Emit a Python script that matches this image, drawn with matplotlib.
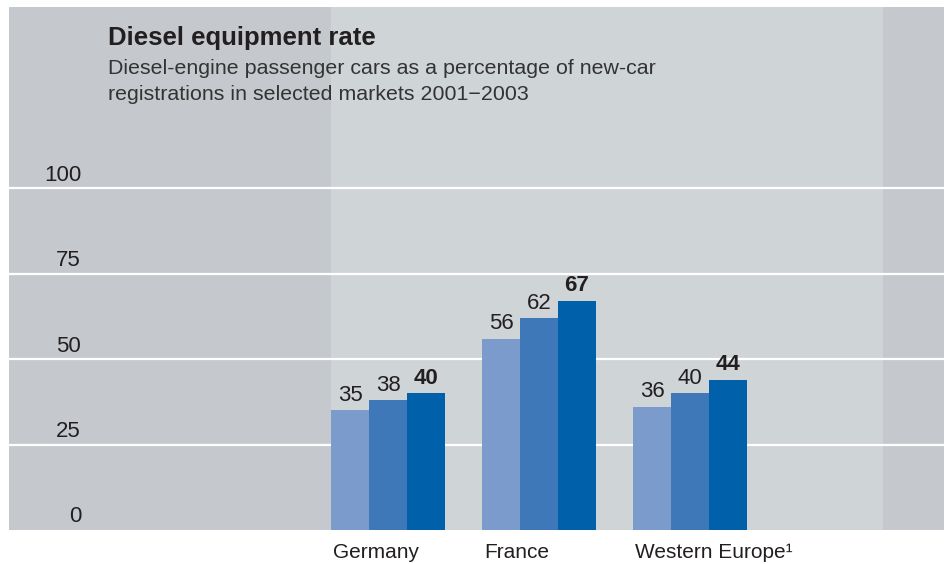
import numpy as np
import matplotlib.pyplot as plt

plt.rcParams['font.family'] = ['Liberation Sans', 'DejaVu Sans']

# Data
markets = ['Germany', 'France', 'Western Europe\u00b9']
years = ['2001', '2002', '2003']
rate_2001 = [35, 56, 36]
rate_2002 = [38, 62, 40]
rate_2003 = [40, 67, 44]
y_ticks = [0, 25, 50, 75, 100]

bar_colors = ['#7b9bcc', '#3f78b9', '#0060aa']
dark_bg = '#c5c9cd'
light_bg = '#cfd4d7'
text_col = '#231f20'

W, H = 944, 564
fig = plt.figure(figsize=(W / 100, H / 100), dpi=100)
fig.patch.set_facecolor('white')

# axes in pixel placement: panel 9..944 x, 7..530 y
ax = fig.add_axes([9 / W, (H - 530) / H, (944 - 9) / W, (530 - 7) / H])
ax.set_facecolor(dark_bg)

width = 0.25
x = np.arange(len(markets))
px = 151.0  # pixels per group
ax.set_xlim((9 - 388) / px, (944 - 388) / px)
ax.set_ylim(0, 153)
upx = 153 / 523.0  # data units per pixel

# lighter band behind the bars
ax.axvspan(-1.5 * width, (883 - 388) / px, color=light_bg, zorder=0, lw=0)

for t in y_ticks[1:]:
    ax.axhline(t, color='white', lw=1.6, zorder=1)

series = [rate_2001, rate_2002, rate_2003]
for i, vals in enumerate(series):
    pos = x + (i - 1) * width
    ax.bar(pos, vals, width=width, color=bar_colors[i], zorder=2, label=years[i])
    for p, v in zip(pos, vals):
        ax.text(p, v + 15 * upx, str(v), ha='center', va='center', fontsize=16,
                color=text_col, fontweight='bold' if i == 2 else 'normal', zorder=3)

for spine in ax.spines.values():
    spine.set_visible(False)
ax.set_xticks([])
ax.set_yticks([])

# y tick labels above gridlines
for t in y_ticks:
    ax.text((81 - 388) / px, t + 13 * upx, str(t), ha='right', va='center',
            fontsize=16, color=text_col)

# category labels, left aligned to group's left edge
for xi, name in zip(x, markets):
    ax.text(xi - 1.5 * width + 0.01, -22 * upx, name, ha='left', va='center',
            fontsize=15, color=text_col, clip_on=False)

fig.text(108 / W, 1 - 38 / H, 'Diesel equipment rate', ha='left', va='center',
         fontsize=18.5, fontweight='bold', color=text_col)
fig.text(108 / W, 1 - 68 / H,
         'Diesel-engine passenger cars as a percentage of new-car',
         ha='left', va='center', fontsize=15.4, color='#333333')
fig.text(108 / W, 1 - 95 / H,
         'registrations in selected markets 2001\u22122003',
         ha='left', va='center', fontsize=15.4, color='#333333')

fig.savefig('out.png', dpi=100, facecolor='white')
